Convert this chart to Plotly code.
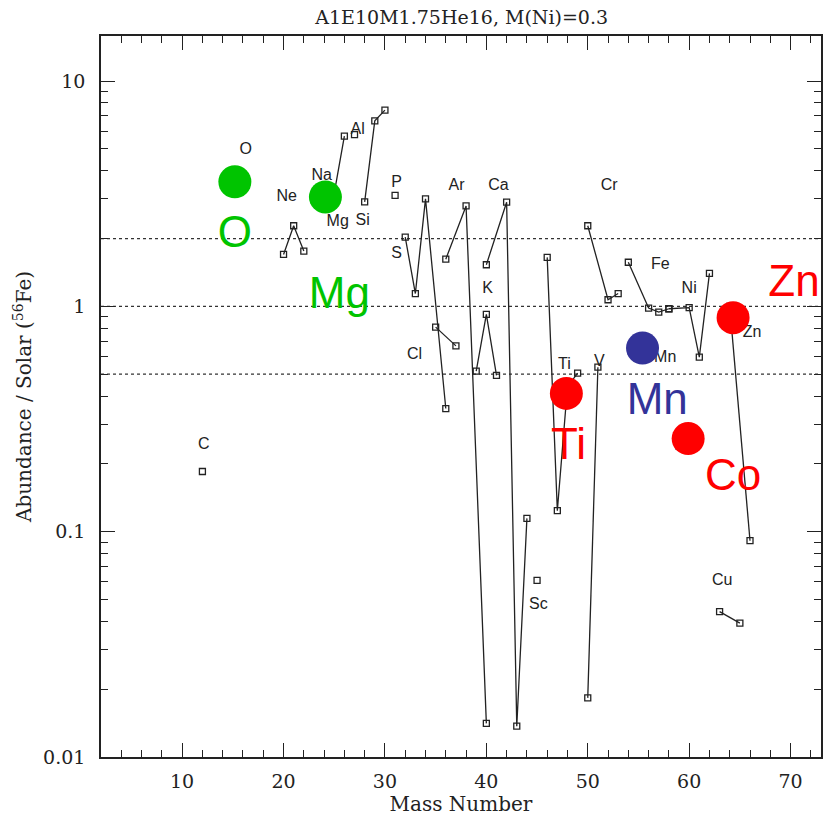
import math
import plotly.graph_objects as go

# Isotopic yields relative to solar, normalised to 56Fe
iso_element = ["C", "O", "Ne", "Ne", "Ne", "Na", "Mg", "Mg", "Mg", "Al",
               "Si", "Si", "Si", "P", "S", "S", "S", "S", "Cl", "Cl",
               "Ar", "Ar", "Ar", "K", "K", "K", "Ca", "Ca", "Ca", "Ca",
               "Sc", "Ti", "Ti", "Ti", "Ti", "V", "V", "Cr", "Cr", "Cr",
               "Mn", "Fe", "Fe", "Fe", "Fe", "Co", "Ni", "Ni", "Ni", "Ni",
               "Cu", "Cu", "Zn", "Zn"]
iso_mass = [12, 16, 20, 21, 22, 23, 24, 25, 26, 27,
            28, 29, 30, 31, 32, 33, 34, 36, 35, 37,
            36, 38, 40, 39, 40, 41, 40, 42, 43, 44,
            45, 46, 47, 48, 49, 50, 51, 50, 52, 53,
            55, 54, 56, 57, 58, 59, 58, 60, 61, 62,
            63, 65, 64, 66]
iso_abund = [0.185, 3.4, 1.70, 2.28, 1.76, 3.0, 3.1, 3.18, 5.70, 5.79,
             2.91, 6.66, 7.43, 3.11, 2.03, 1.14, 3.00, 0.352, 0.809, 0.668,
             1.62, 2.79, 0.0141, 0.516, 0.921, 0.494, 1.53, 2.90, 0.0137, 0.1146,
             0.0608, 1.65, 0.124, 0.44, 0.506, 0.0183, 0.537, 2.28, 1.07, 1.14,
             0.65, 1.57, 0.983, 0.943, 0.976, 0.24, 0.976, 0.987, 0.595, 1.40,
             0.0442, 0.0393, 1.0, 0.0912]

# Element name labels
label_text = ["C", "O", "Ne", "Na", "Mg", "Al", "Si", "P", "S", "Cl", "Ar", "K",
              "Ca", "Sc", "Ti", "V", "Cr", "Mn", "Fe", "Ni", "Cu", "Zn"]
label_x = [12.14, 16.28, 20.32, 23.76, 25.34, 27.31, 27.80, 31.15, 31.15, 32.92,
           37.06, 40.11, 41.19, 45.13, 47.69, 51.14, 52.12, 57.64, 57.15, 60.0,
           63.25, 66.2]
label_y = [0.2436, 4.94, 3.05, 3.78, 2.36, 6.06, 2.39, 3.52, 1.70, 0.606,
           3.41, 1.20, 3.41, 0.0474, 0.547, 0.564, 3.41, 0.593, 1.52, 1.19,
           0.0606, 0.759]

# Observed abundances
obs_element = ["O", "Mg", "Ti", "Mn", "Co", "Zn"]
obs_mass = [15.2, 24.13, 47.89, 55.4, 59.9, 64.33]
obs_abund = [3.57, 3.06, 0.411, 0.653, 0.259, 0.891]
obs_color = ["#00c400", "#00c400", "#ff0000", "#333399", "#ff0000", "#ff0000"]
obs_label_x = [15.2, 25.5, 48.1, 56.85, 64.33, 70.34]
obs_label_y = [2.05, 1.096, 0.236, 0.371, 0.172, 1.25]

ref_levels = [2.0, 1.0, 0.5]

X_RANGE = [2, 73]
Y_RANGE = [-2, 1.2]

fig = go.Figure()

# reference levels
for lv in ref_levels:
    fig.add_trace(go.Scatter(x=X_RANGE, y=[lv, lv], mode="lines",
                             line=dict(color="#333333", width=1.2, dash="dot"),
                             hoverinfo="skip", showlegend=False))

# isotopes of the same element joined by lines
xs, ys = [], []
prev = None
for el, m, a in zip(iso_element, iso_mass, iso_abund):
    if prev is not None and el != prev:
        xs.append(None)
        ys.append(None)
    xs.append(m)
    ys.append(a)
    prev = el
fig.add_trace(go.Scatter(x=xs, y=ys, mode="lines+markers",
                         line=dict(color="#222222", width=1.3),
                         marker=dict(symbol="square-open", size=6,
                                     color="#222222", line=dict(width=1.3)),
                         connectgaps=False, showlegend=False))

fig.add_trace(go.Scatter(x=label_x, y=label_y, mode="text", text=label_text,
                         textfont=dict(family="Liberation Sans, Arial", size=16,
                                       color="#222222"),
                         showlegend=False, hoverinfo="skip"))

fig.add_trace(go.Scatter(x=obs_mass, y=obs_abund, mode="markers",
                         marker=dict(size=33, color=obs_color, line=dict(width=0)),
                         text=obs_element, showlegend=False))

fig.add_trace(go.Scatter(x=obs_label_x, y=obs_label_y, mode="text", text=obs_element,
                         textfont=dict(family="Liberation Sans, Arial", size=44,
                                       color=obs_color),
                         showlegend=False, hoverinfo="skip", cliponaxis=False))

minor_y = [d * 10 ** k for k in range(-2, 2) for d in range(2, 10)]

serif = "DejaVu Serif, Liberation Serif, serif"
fig.update_layout(
    width=823, height=818,
    margin=dict(l=101, r=0, t=36, b=61),
    paper_bgcolor="white", plot_bgcolor="white",
    title=dict(text="A1E10M1.75He16, M(Ni)=0.3", x=0.561, xanchor="center",
               y=0.979, yanchor="middle",
               font=dict(family=serif, size=19, color="#222222")),
    font=dict(family=serif, color="#222222"),
    xaxis=dict(range=X_RANGE, showgrid=False, zeroline=False,
               showline=True, linecolor="#222222", linewidth=1.6, mirror="ticks",
               ticks="inside", ticklen=14, tickwidth=1.3, tickcolor="#222222",
               tick0=0, dtick=10, tickfont=dict(family=serif, size=19),
               ticklabelstandoff=6,
               minor=dict(ticks="inside", ticklen=7, tickwidth=1.2,
                          tickcolor="#222222", dtick=2, showgrid=False),
               title=dict(text="Mass Number", font=dict(family=serif, size=20),
                          standoff=6)),
    yaxis=dict(type="log", range=Y_RANGE, showgrid=False, zeroline=False,
               showline=True, linecolor="#222222", linewidth=1.6, mirror="ticks",
               ticks="inside", ticklen=14, tickwidth=1.3, tickcolor="#222222",
               tickvals=[0.01, 0.1, 1, 10], ticktext=["0.01", "0.1", "1", "10"],
               tickfont=dict(family=serif, size=19), ticklabelstandoff=10,
               minor=dict(ticks="inside", ticklen=7, tickwidth=1.2,
                          tickcolor="#222222", tickvals=minor_y, showgrid=False),
               title=dict(text="Abundance / Solar (<sup>56</sup>Fe)",
                          font=dict(family=serif, size=20), standoff=6)),
)

fig.write_html("out.html")
